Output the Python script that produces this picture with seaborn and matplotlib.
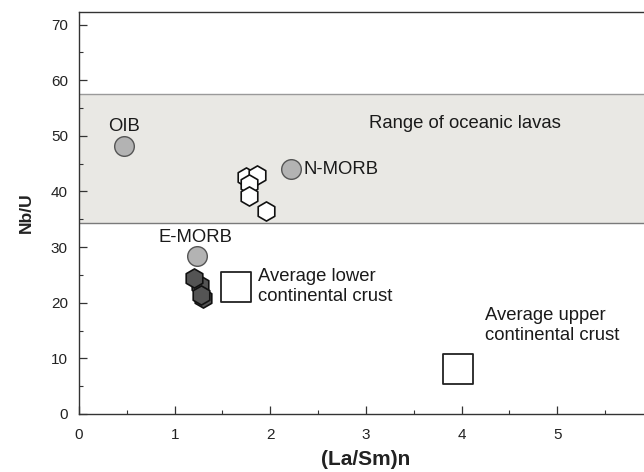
import matplotlib
matplotlib.use("Agg")
import matplotlib.pyplot as plt
import seaborn as sns
import pandas as pd
from matplotlib.ticker import MultipleLocator

sns.set_style("white")
plt.rcParams['font.family'] = ['Liberation Sans', 'DejaVu Sans']

# Reference compositions (circles)
ref_names = ["OIB", "N-MORB", "E-MORB"]
ref_x = [0.47, 2.22, 1.23]
ref_y = [48.2, 44.0, 28.4]

# Samples - white hexagons
white_x = [1.75, 1.86, 1.78, 1.78, 1.95]
white_y = [42.6, 42.9, 41.3, 39.1, 36.4]

# Samples - dark hexagons
dark_x = [1.30, 1.27, 1.28, 1.20]
dark_y = [20.8, 23.2, 21.4, 24.4]

# Crust averages (squares)
crust_names = ["Average lower\ncontinental crust", "Average upper\ncontinental crust"]
crust_x = [1.64, 3.96]
crust_y = [22.8, 8.1]

band_low, band_high = 34.3, 57.6

fig = plt.figure(figsize=(6.44, 4.72), dpi=100)
ax = fig.add_axes([0.1227, 0.123, 0.891, 0.852])

ax.axhspan(band_low, band_high, facecolor="#e9e8e4", edgecolor="none", zorder=0)
ax.axhline(band_low, color="#7a7a7a", lw=1.0, zorder=1)
ax.axhline(band_high, color="#9a9a9a", lw=1.0, zorder=1)

ref_df = pd.DataFrame({"x": ref_x, "y": ref_y, "name": ref_names})
white_df = pd.DataFrame({"x": white_x, "y": white_y})
dark_df = pd.DataFrame({"x": dark_x, "y": dark_y})
crust_df = pd.DataFrame({"x": crust_x, "y": crust_y})

sns.scatterplot(data=crust_df, x="x", y="y", marker="s", s=440, color="white",
                edgecolor="#222222", linewidth=1.3, ax=ax, zorder=3)
sns.scatterplot(data=ref_df, x="x", y="y", marker="o", s=200, color="#b3b3b3",
                edgecolor="#555555", linewidth=1.0, ax=ax, zorder=4)
sns.scatterplot(data=white_df, x="x", y="y", marker="h", s=190, color="white",
                edgecolor="#111111", linewidth=1.2, ax=ax, zorder=5)
sns.scatterplot(data=dark_df, x="x", y="y", marker="h", s=190, color="#545454",
                edgecolor="#111111", linewidth=1.2, ax=ax, zorder=5)

fs = 13.3
tc = "#1a1a1a"
ax.text(0.47, 51.6, "OIB", fontsize=fs, ha="center", va="center", color=tc)
ax.text(2.343, 44.0, "N-MORB", fontsize=fs, ha="left", va="center", color=tc)
ax.text(1.213, 31.7, "E-MORB", fontsize=fs, ha="center", va="center", color=tc)
ax.text(1.872, 22.9, crust_names[0], fontsize=fs, ha="left", va="center", color=tc)
ax.text(4.247, 15.9, crust_names[1], fontsize=fs, ha="left", va="center", color=tc)
ax.text(4.04, 52.3, "Range of oceanic lavas", fontsize=fs, ha="center", va="center", color=tc)

ax.set_xlim(0, 6.0)
ax.set_ylim(0, 72.3)
ax.xaxis.set_major_locator(MultipleLocator(1))
ax.xaxis.set_minor_locator(MultipleLocator(0.5))
ax.yaxis.set_major_locator(MultipleLocator(10))
ax.yaxis.set_minor_locator(MultipleLocator(5))
ax.tick_params(axis="both", which="major", direction="in", length=6, width=0.9,
               labelsize=11, color="#333", labelcolor="#222", bottom=True, left=True)
ax.tick_params(axis="both", which="minor", direction="in", length=3, width=0.8,
               color="#333", bottom=True, left=True)
ax.tick_params(axis="x", pad=10)
ax.tick_params(axis="y", pad=8)
ax.set_xticks([0, 1, 2, 3, 4, 5])

for sp in ax.spines.values():
    sp.set_color("#333")
    sp.set_linewidth(1.0)

ax.set_xlabel("(La/Sm)n", fontsize=15, fontweight="bold", labelpad=6, color="#222")
ax.set_ylabel("Nb/U", fontsize=12.5, fontweight="bold", labelpad=12, color="#222")

fig.savefig("out.png", dpi=100)
